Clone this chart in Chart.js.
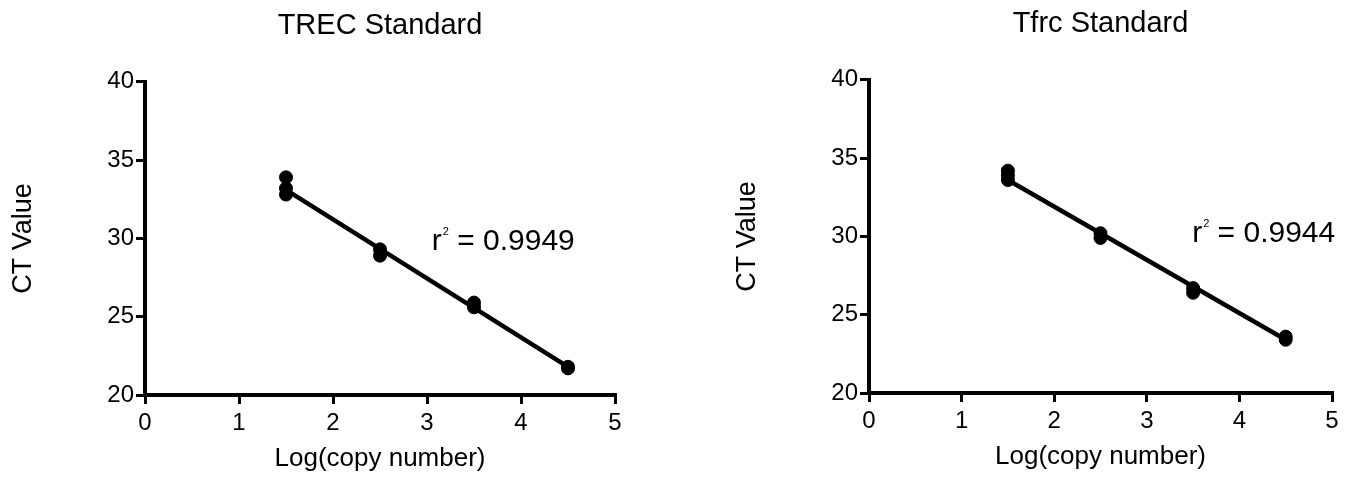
<!DOCTYPE html>
<html>
<head>
<meta charset="utf-8">
<script src="https://cdn.jsdelivr.net/npm/chart.js@4.4.1/dist/chart.umd.min.js"></script>
<style>
	html, body { margin: 0; padding: 0; background: #fff; }
	body { width: 1349px; height: 479px; position: relative; overflow: hidden; }
	.box { position: absolute; top: 0; height: 479px; }
	#leftBox { left: 0; width: 660px; }
	#rightBox { left: 724px; width: 625px; top: -2px; }
</style>
</head>
<body>
<div class="box" id="leftBox"><canvas id="trecChart"></canvas></div>
<div class="box" id="rightBox"><canvas id="tfrcChart"></canvas></div>
<script>
// values
const trecX = [1.5, 1.5, 1.5, 2.5, 2.5, 3.5, 3.5, 4.5, 4.5];
const trecCt = [33.9, 33.2, 32.8, 29.3, 28.9, 25.9, 25.6, 21.8, 21.7];
const trecFitX = [1.5, 4.5];
const trecFitCt = [33.1, 21.8];
const trecR2 = '0.9949';

const tfrcX = [1.5, 1.5, 1.5, 2.5, 2.5, 3.5, 3.5, 4.5, 4.5];
const tfrcCt = [34.2, 33.9, 33.6, 30.2, 29.9, 26.7, 26.4, 23.6, 23.4];
const tfrcFitX = [1.5, 4.5];
const tfrcFitCt = [33.6, 23.4];
const tfrcR2 = '0.9944';

const xTicks = [0, 1, 2, 3, 4, 5];
const yTicks = [20, 25, 30, 35, 40];

const FONT = "'Liberation Sans', Arial, Helvetica, sans-serif";

function toPoints(xs, ys) {
	return xs.map((x, i) => ({ x, y: ys[i] }));
}

// draws "r² = ..." with a small raised 2, anchored in data coordinates
const r2Label = {
	id: 'r2Label',
	afterDatasetsDraw(chart, args, opts) {
		const { ctx, scales } = chart;
		const px = scales.x.getPixelForValue(opts.at[0]);
		const py = scales.y.getPixelForValue(opts.at[1]);
		ctx.save();
		ctx.fillStyle = '#000';
		ctx.textBaseline = 'alphabetic';
		ctx.textAlign = 'left';
		ctx.font = `30px ${FONT}`;
		ctx.fillText('r', px, py);
		let cx = px + ctx.measureText('r').width + 1;
		ctx.font = `11px ${FONT}`;
		ctx.fillText('2', cx, py - 15);
		cx += ctx.measureText('2').width;
		ctx.font = `30px ${FONT}`;
		ctx.fillText(' = ' + opts.value, cx, py);
		ctx.restore();
	},
};

function initChart(el, title, points, fit, r2, at) {
	return new Chart(el, {
		type: 'scatter',
		data: {
			datasets: [
				{
					type: 'line',
					data: fit,
					borderColor: '#000',
					borderWidth: 4.5,
					pointRadius: 0,
					fill: false,
				},
				{
					data: points,
					backgroundColor: '#000',
					borderColor: '#000',
					pointRadius: 6.5,
					pointHoverRadius: 6.5,
				},
			],
		},
		options: {
			responsive: false,
			animation: false,
			events: [],
			layout: { padding: { left: 0, right: 0, top: 0, bottom: 0 } },
			plugins: {
				legend: { display: false },
				tooltip: { enabled: false },
				title: {
					display: true,
					fullSize: false,
					text: title,
					color: '#000',
					font: { family: FONT, size: 29, weight: 'normal' },
					padding: { top: 9, bottom: 38 },
				},
				r2Label: { value: r2, at },
			},
			scales: {
				x: {
					type: 'linear',
					min: 0,
					max: 5,
					afterBuildTicks: (s) => { s.ticks = xTicks.map((v) => ({ value: v })); },
					afterFit: (s) => { s.height = 84; },
					border: { color: '#000', width: 4 },
					grid: { drawOnChartArea: false, color: '#000', lineWidth: 3, tickLength: 9 },
					ticks: { color: '#000', padding: 5, font: { family: FONT, size: 24 } },
					title: {
						display: true,
						text: 'Log(copy number)',
						color: '#000',
						font: { family: FONT, size: 26 },
						padding: { top: 0, bottom: 5 },
					},
				},
				y: {
					type: 'linear',
					min: 20,
					max: 40,
					afterBuildTicks: (s) => { s.ticks = yTicks.map((v) => ({ value: v })); },
					afterFit: (s) => { s.width = 145; },
					border: { color: '#000', width: 4 },
					grid: { drawOnChartArea: false, color: '#000', lineWidth: 3, tickLength: 9 },
					ticks: { color: '#000', padding: 2, font: { family: FONT, size: 24 } },
					title: {
						display: true,
						text: 'CT Value',
						color: '#000',
						font: { family: FONT, size: 27 },
						padding: { top: 7, bottom: 0 },
					},
				},
			},
		},
		plugins: [r2Label],
	});
}

const trecCanvas = document.getElementById('trecChart');
trecCanvas.width = 660;
trecCanvas.height = 479;
const tfrcCanvas = document.getElementById('tfrcChart');
tfrcCanvas.width = 625;
tfrcCanvas.height = 479;

const trecChart = initChart(
	trecCanvas,
	'TREC Standard',
	toPoints(trecX, trecCt),
	toPoints(trecFitX, trecFitCt),
	trecR2,
	[3.05, 29.26]
);
trecChart.options.layout.padding.right = 45;
trecChart.update();

const tfrcChart = initChart(
	tfrcCanvas,
	'Tfrc Standard',
	toPoints(tfrcX, tfrcCt),
	toPoints(tfrcFitX, tfrcFitCt),
	tfrcR2,
	[3.49, 29.67]
);
tfrcChart.options.layout.padding.right = 17;
tfrcChart.update();
</script>
</body>
</html>
